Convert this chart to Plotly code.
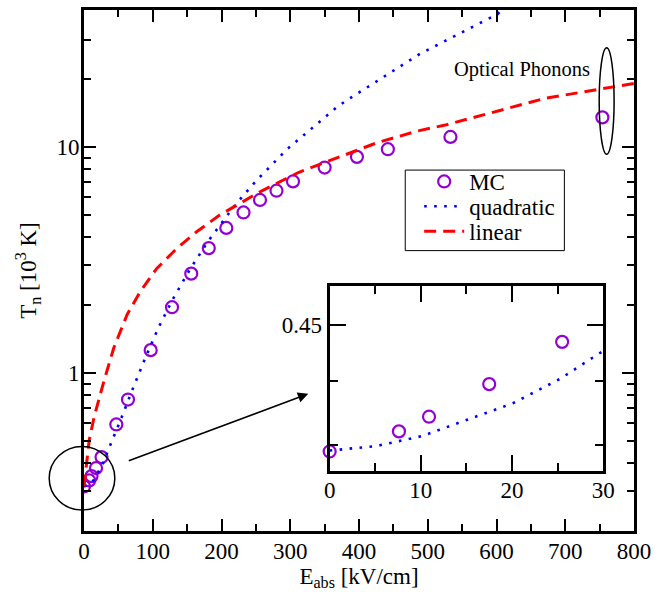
import math
import plotly.graph_objects as go

# ---------------- data ----------------
mc_E = [0, 7.6, 10.9, 17.5, 25.5, 47, 64, 97, 128, 156, 181.5, 207, 232, 256, 280, 304, 350, 397, 442, 533, 754]
mc_T = [0.315, 0.335, 0.35, 0.38, 0.425, 0.593, 0.764, 1.265, 1.96, 2.76, 3.58, 4.40, 5.15, 5.85, 6.43, 7.07,
        8.14, 9.08, 9.82, 11.13, 13.58]

quad_E = [0, 8, 14.8, 22, 29.2, 34.9, 41.2, 53.2, 70, 89.1, 108.2, 129.7, 153.7, 180, 218.4, 249.6, 295, 343,
          368, 384, 489, 602, 607]
quad_T = [0.315, 0.322, 0.338, 0.371, 0.407, 0.454, 0.503, 0.62, 0.839, 1.167, 1.59, 2.14, 2.87, 3.82, 5.49,
          7.07, 9.79, 13.1, 15.1, 16.3, 26.0, 39.0, 40.6]

lin_E = [0, 7.6, 14.8, 29.2, 43.5, 62.8, 81.9, 105.9, 134.6, 163.4, 196.8, 230.3, 254.3, 311.8, 369.3, 426.7,
         484, 527.3, 671, 800]
lin_T = [0.315, 0.506, 0.641, 0.928, 1.30, 1.82, 2.30, 2.91, 3.56, 4.22, 5.00, 5.71, 6.32, 7.74, 9.00, 10.5,
         11.8, 12.6, 16.5, 19.2]

# inset (zoom of the low-field region)
inset_mc_E = [0, 7.6, 10.9, 17.5, 25.5]
inset_mc_T = [0.3453, 0.3602, 0.3715, 0.3978, 0.4347]
inset_quad_E = [0, 5.07, 10.1, 15.1, 20.1, 25.2, 30]
inset_quad_T = [0.346, 0.3492, 0.3566, 0.3693, 0.3821, 0.4019, 0.4265]

x_ticks = [0, 100, 200, 300, 400, 500, 600, 700, 800]
y_ticks = [1, 10]
y_minor = [0.3, 0.4, 0.5, 0.6, 0.7, 0.8, 0.9, 2, 3, 4, 5, 6, 7, 8, 9, 20, 30]
inset_x_ticks = [0, 10, 20, 30]
inset_y_ticks = [0.45]
inset_y_minor = [0.35, 0.40]

# ---------------- styling ----------------
W, H = 658, 592
L, R, T, B = 84, 21, 7, 61
FONT = "Liberation Serif"
PURPLE = "#9400D3"

pw = W - L - R
ph = H - T - B


def px2paper(px, py):
    return (px - L) / pw, (H - B - py) / ph


fig = go.Figure()

fig.add_trace(go.Scatter(x=mc_E, y=mc_T, mode="markers", name="MC", legend="legend",
                         marker=dict(symbol="circle-open", size=12, color=PURPLE, line=dict(width=2.2, color=PURPLE))))
fig.add_trace(go.Scatter(x=quad_E, y=quad_T, mode="lines", name="quadratic", legend="legend2",
                         line=dict(color="#0000FF", width=2.6, dash="2.6px,7.4px")))
fig.add_trace(go.Scatter(x=lin_E, y=lin_T, mode="lines", name="linear", legend="legend3",
                         line=dict(color="#FF0000", width=3, dash="12px,7px")))

# inset traces
fig.add_trace(go.Scatter(x=inset_quad_E, y=inset_quad_T, mode="lines", showlegend=False,
                         xaxis="x2", yaxis="y2",
                         line=dict(color="#0000FF", width=2.6, dash="2.6px,7.4px")))
fig.add_trace(go.Scatter(x=inset_mc_E, y=inset_mc_T, mode="markers", showlegend=False,
                         xaxis="x2", yaxis="y2", cliponaxis=False,
                         marker=dict(symbol="circle-open", size=12, color=PURPLE, line=dict(width=2.2, color=PURPLE))))

axis_common = dict(showgrid=False, zeroline=False, showline=True, linecolor="black", linewidth=3,
                   mirror="allticks", ticks="inside", tickcolor="black", tickwidth=2,
                   tickfont=dict(family=FONT, size=23, color="black"))

ix0, iy0 = px2paper(331, 471)
ix1, iy1 = px2paper(606, 285)


def leg(py):
    return dict(x=px2paper(421, 0)[0], y=px2paper(0, py)[1], xanchor="left", yanchor="middle",
                bgcolor="rgba(0,0,0,0)", borderwidth=0, itemwidth=40,
                font=dict(family=FONT, size=23, color="black"))


fig.update_layout(
    width=W, height=H,
    margin=dict(l=L, r=R, t=T, b=B),
    paper_bgcolor="white", plot_bgcolor="white",
    font=dict(family=FONT, size=23, color="black"),
    xaxis=dict(axis_common, range=[0, 800], tickmode="array", tickvals=x_ticks, ticklen=12,
               ticklabelstandoff=-3,
               minor=dict(ticks="inside", dtick=50, ticklen=7, tickwidth=2, tickcolor="black"),
               title=dict(text="E<sub>abs</sub> [kV/cm]", standoff=0, font=dict(family=FONT, size=23))),
    yaxis=dict(axis_common, type="log", range=[math.log10(0.2), math.log10(40.6)],
               tickmode="array", tickvals=y_ticks, ticktext=[str(v) for v in y_ticks], ticklen=12,
               ticklabelstandoff=-3,
               minor=dict(ticks="inside", tickvals=y_minor, ticklen=7, tickwidth=2, tickcolor="black"),
               title=dict(text="T<sub>n</sub> [10<sup>3</sup> K]", standoff=14, font=dict(family=FONT, size=23))),
    xaxis2=dict(axis_common, domain=[ix0, ix1], anchor="y2", range=[0, 30], tickmode="array",
                tickvals=inset_x_ticks, ticklen=16, ticklabelstandoff=-4,
                minor=dict(ticks="inside", dtick=5, ticklen=8, tickwidth=2, tickcolor="black")),
    yaxis2=dict(axis_common, domain=[iy0, iy1], anchor="x2", type="log",
                range=[math.log10(0.3312), math.log10(0.4884)], tickmode="array",
                tickvals=inset_y_ticks, ticktext=["0.45"], ticklen=16,
                minor=dict(ticks="inside", tickvals=inset_y_minor, ticklen=8, tickwidth=2, tickcolor="black")),
    legend=leg(179.5),
    legend2=leg(204.5),
    legend3=leg(229.5),
    showlegend=True,
)

# legend frame
bx0, by0 = px2paper(407, 249)
bx1, by1 = px2paper(567, 168)
fig.add_shape(type="rect", xref="paper", yref="paper", x0=bx0, x1=bx1, y0=by0, y1=by1,
              fillcolor="white", line=dict(color="black", width=1), layer="above")

# inset white background
fig.add_shape(type="rect", xref="paper", yref="paper", x0=ix0, x1=ix1, y0=iy0, y1=iy1,
              fillcolor="white", line=dict(width=0), layer="below")

# circle around origin region
cx0, cy0 = px2paper(49, 510)
cx1, cy1 = px2paper(115, 446)
fig.add_shape(type="circle", xref="paper", yref="paper", x0=cx0, x1=cx1, y0=cy0, y1=cy1,
              line=dict(color="black", width=1.5))

# ellipse around optical phonon point
ex0, ey0 = px2paper(602, 152)
ex1, ey1 = px2paper(617, 45)
fig.add_shape(type="circle", xref="paper", yref="paper", x0=ex0, x1=ex1, y0=ey0, y1=ey1,
              line=dict(color="black", width=1.5))

# arrow to inset
tx, ty = px2paper(309.5, 393)
fig.add_annotation(x=tx, y=ty, xref="paper", yref="paper", text="", showarrow=True,
                   ax=128.5 - 309.5, ay=460.5 - 393, axref="pixel", ayref="pixel",
                   arrowhead=2, arrowsize=1.3, arrowwidth=1.6, arrowcolor="black")

# label
lx, ly = px2paper(524, 67)
fig.add_annotation(x=lx, y=ly, xref="paper", yref="paper", text="Optical Phonons", showarrow=False,
                   font=dict(family=FONT, size=20.5, color="black"), xanchor="center", yanchor="middle")

fig.write_html("out.html")
